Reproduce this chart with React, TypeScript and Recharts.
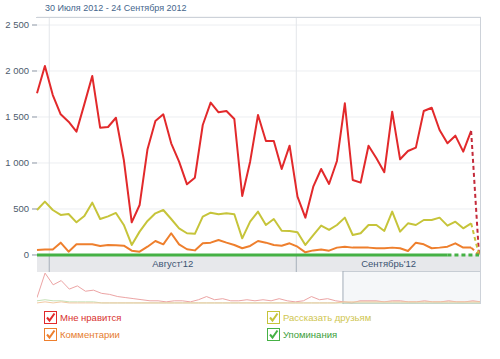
import { LineChart, Line, XAxis, YAxis, CartesianGrid, ReferenceArea, ReferenceLine } from 'recharts';

// daily values, 30 Jul 2012 .. 24 Sep 2012 (57 days), last day incomplete
const likes = [1758, 2054, 1739, 1529, 1449, 1340, 1640, 1946, 1384, 1391, 1492, 1033, 355, 543, 1150, 1457, 1529, 1214, 1014, 768,
  840, 1413, 1656, 1551, 1565, 1478, 641, 1014, 1522, 1239, 1239, 935, 1188, 634, 406, 743, 935, 772, 1022, 1649,
  815, 786, 1188, 1051, 900, 1558, 1040, 1130, 1167, 1565, 1601, 1359, 1214, 1297, 1123, 1348, 0];
const shares = [489, 580, 489, 435, 446, 355, 424, 569, 391, 420, 457, 326, 109, 254, 370, 453, 489, 391, 290, 236,
  230, 417, 460, 443, 453, 443, 181, 362, 471, 326, 391, 264, 261, 247, 109, 217, 319, 272, 326, 406,
  217, 236, 326, 326, 261, 471, 254, 344, 326, 380, 380, 406, 319, 362, 290, 344, 0];
const comments = [54, 60, 60, 134, 36, 116, 116, 116, 98, 109, 105, 101, 47, 36, 90, 152, 116, 236, 116, 62,
  50, 127, 134, 163, 134, 109, 73, 98, 152, 134, 109, 101, 127, 90, 29, 50, 60, 47, 80, 90,
  80, 80, 80, 73, 73, 80, 73, 43, 134, 116, 73, 80, 90, 127, 80, 80, 0];
const mentions = [0, 0, 0, 0, 0, 0, 0, 0, 0, 0, 0, 0, 0, 0, 0, 0, 0, 0, 0, 0,
  0, 0, 0, 0, 0, 0, 0, 0, 0, 0, 0, 0, 0, 0, 0, 0, 0, 0, 0, 0,
  0, 0, 0, 0, 0, 0, 0, 0, 0, 0, 0, 0, 0, 0, 0, 0, 0];

const yTicks = [0, 500, 1000, 1500, 2000, 2500];
const monthEdges = [1.55, 32.85];
const monthLabels = ["Август'12", "Сентябрь'12"];

// navigator (longer history, rough)
const navLikes = [6, 29, 18, 22, 14, 17, 12, 13, 10, 9, 7, 6, 5, 4, 3, 3, 2, 3, 3, 2, 4, 7, 4, 5, 3, 3, 4, 3, 4, 3,
  5, 3, 2, 3, 7, 4, 5, 3, 2, 1, 3, 3, 3, 2, 3, 3, 2, 2, 3, 2, 2, 3, 2, 2, 3, 2];
const navMentions = [3, 4, 3, 3, 2, 2, 2, 2, 1, 1, 1, 1, 1, 1, 1, 1, 1, 1, 1, 1, 1, 1, 1, 1, 1, 1, 1, 1, 1, 1,
  1, 1, 1, 1, 1, 1, 1, 1, 1, 1, 1, 1, 1, 1, 1, 1, 1, 1, 1, 1, 1, 1, 1, 1, 1, 1];
const navComments = [1, 2, 1, 2, 1, 1, 1, 1, 1, 1, 1, 1, 1, 1, 1, 1, 1, 1, 1, 1, 1, 1, 1, 1, 1, 1, 1, 1, 1, 1,
  1, 1, 1, 1, 1, 1, 1, 1, 2, 2, 2, 2, 2, 2, 2, 2, 2, 2, 2, 2, 2, 2, 2, 2, 2, 2];
const navWindow = [37.9, 55];

const series = [
  { key: 'likes', name: 'Мне нравится', values: likes, color: '#e2292b', tail: '#c42a3a', text: '#d8322e', cut: 55, width: 2 },
  { key: 'shares', name: 'Рассказать друзьям', values: shares, color: '#c6c43a', tail: '#c6c43a', text: '#cfc650', cut: 55, width: 2 },
  { key: 'comments', name: 'Комментарии', values: comments, color: '#ee7f2d', tail: '#ee7f2d', text: '#e67d2e', cut: 55, width: 2 },
  { key: 'mentions', name: 'Упоминания', values: mentions, color: '#45b145', tail: '#45b145', text: '#3a9e3a', cut: 52, width: 3 },
];

const data = likes.map((_, i) => {
  const row: Record<string, number | null> = { i };
  series.forEach((s) => {
    row[s.key] = i <= s.cut ? s.values[i] : null;
    row[s.key + 'Tail'] = i >= s.cut ? s.values[i] : null;
  });
  return row;
});

const navData = navLikes.map((v, i) => ({ i, likes: v, mentions: navMentions[i], comments: navComments[i] }));

const font = '"Liberation Sans", Arial, sans-serif';

const fmt = (v: number) => (v >= 1000 ? `${Math.floor(v / 1000)} ${String(v % 1000).padStart(3, '0')}` : String(v));

function Check({ color }: { color: string }) {
  return (
    <svg width={13} height={13} style={{ display: 'block' }}>
      <rect x={0.5} y={0.5} width={12} height={12} fill="#fff" stroke={color} />
      <path d="M3 6.5 L5.5 9.5 L10.5 2.5" fill="none" stroke={color} strokeWidth={2} />
    </svg>
  );
}

export default function App() {
  const legendPos = [
    { s: series[0], x: 44, y: 311 },
    { s: series[2], x: 44, y: 328 },
    { s: series[1], x: 267, y: 311 },
    { s: series[3], x: 267, y: 328 },
  ];
  return (
    <div style={{ position: 'absolute', left: 0, top: 0, width: 500, height: 359, background: '#fff', fontFamily: font }}>
      <div style={{ position: 'absolute', left: 45, top: 3, fontSize: 9, color: '#45668c', whiteSpace: 'nowrap' }}>
        30 Июля 2012 - 24 Сентября 2012
      </div>
      <div style={{ position: 'absolute', left: 0, top: 0 }}>
        <LineChart width={500} height={272} data={data} margin={{ top: 17, right: 19, bottom: 0, left: 0 }}>
          <CartesianGrid vertical={false} stroke="#eceef1" />
          <XAxis dataKey="i" type="number" domain={[0, 56.25]} hide />
          <YAxis domain={[-185, 2587]} ticks={yTicks} allowDataOverflow width={37} axisLine={false}
            tickSize={5} tickMargin={3} tickLine={{ stroke: '#8a95a3' }}
            tick={{ fill: '#4d5b6c', fontSize: 9.5, fontFamily: font }} tickFormatter={fmt} />
          <ReferenceArea x1={0} x2={56.25} y1={-185} y2={0} fill="#e7e8eb" fillOpacity={1} stroke="none" />
          <ReferenceArea x1={monthEdges[0]} x2={monthEdges[1]} y1={-185} y2={0} fill="none" stroke="none"
            label={{ value: monthLabels[0], position: 'center', fill: '#3c5472', fontSize: 9.5, fontFamily: font }} />
          <ReferenceArea x1={monthEdges[1]} x2={56.25} y1={-185} y2={0} fill="none" stroke="none"
            label={{ value: monthLabels[1], position: 'center', fill: '#3c5472', fontSize: 9.5, fontFamily: font }} />
          {monthEdges.map((m) => (
            <ReferenceLine key={'g' + m} x={m} stroke="#e3e6ea" />
          ))}
          {monthEdges.map((m) => (
            <ReferenceLine key={'b' + m} segment={[{ x: m, y: -185 }, { x: m, y: 0 }]} stroke="#a9b0ba" />
          ))}
          {series.map((s) => (
            <Line key={s.key} dataKey={s.key} type="linear" stroke={s.color} strokeWidth={s.width} dot={false}
              isAnimationActive={false} connectNulls={false} strokeLinejoin="round" />
          ))}
          {series.map((s) => (
            <Line key={s.key + 'Tail'} dataKey={s.key + 'Tail'} type="linear" stroke={s.tail} strokeWidth={s.width}
              strokeDasharray="4 3" dot={false} isAnimationActive={false} />
          ))}
        </LineChart>
      </div>
      <div style={{ position: 'absolute', left: 37, top: 271 }}>
        <LineChart width={444} height={33} data={navData} margin={{ top: 0, right: 0, bottom: 0, left: 0 }}>
          <XAxis dataKey="i" type="number" domain={[0, 55]} hide />
          <YAxis domain={[0, 31]} hide />
          <Line dataKey="likes" stroke="#eca4a4" strokeWidth={1} dot={false} isAnimationActive={false} />
          <Line dataKey="mentions" stroke="#c5e0b5" strokeWidth={1} dot={false} isAnimationActive={false} />
          <Line dataKey="comments" stroke="#f2c9a2" strokeWidth={1} dot={false} isAnimationActive={false} />
          <ReferenceArea x1={navWindow[0]} x2={navWindow[1]} y1={0} y2={31} fill="#eef1f5" fillOpacity={0.6}
            stroke="#a3acb8" />
        </LineChart>
      </div>
      <div style={{ position: 'absolute', left: 36, top: 17, width: 444, height: 286, borderTop: '1px solid #cdd2d9',
        borderRight: '1px solid #cdd2d9', pointerEvents: 'none' }} />
      {legendPos.map(({ s, x, y }) => (
        <div key={s.key} style={{ position: 'absolute', left: x, top: y, display: 'flex', alignItems: 'center' }}>
          <Check color={s.color} />
          <span style={{ marginLeft: 3, fontSize: 9.5, color: s.text, whiteSpace: 'nowrap' }}>{s.name}</span>
        </div>
      ))}
    </div>
  );
}
